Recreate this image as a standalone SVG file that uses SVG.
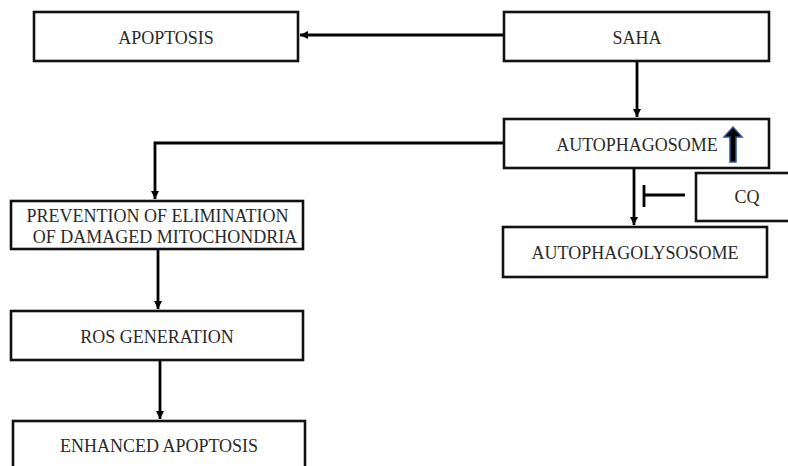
<svg xmlns="http://www.w3.org/2000/svg" width="788" height="466" viewBox="0 0 788 466">
<defs>
<marker id="ah" markerWidth="10" markerHeight="10" refX="8" refY="5" orient="auto" markerUnits="userSpaceOnUse">
<path d="M0,1 L8,5 L0,9 Z" fill="#000"/>
</marker>
<style>
.box{fill:#fff;stroke:#111;stroke-width:2.6}
.t{font-family:"Liberation Serif","Times New Roman",serif;font-size:18px;fill:#2a2a2a;text-anchor:middle}
.c{fill:none;stroke:#000;stroke-width:2.8}
</style>
</defs>
<rect width="788" height="466" fill="#fff"/>
<g id="connectors">
<path class="c" d="M504,35 H300" marker-end="url(#ah)"/>
<path class="c" d="M637,61 V117" marker-end="url(#ah)"/>
<path class="c" d="M504,143 H155 V199" marker-end="url(#ah)"/>
<path class="c" d="M634,168 V225" marker-end="url(#ah)"/>
<path class="c" d="M685,195 H644 M644,185 V207"/>
<path class="c" d="M158,249 V309" marker-end="url(#ah)"/>
<path class="c" d="M160,360 V419" marker-end="url(#ah)"/>
</g>
<g id="apoptosis">
<rect class="box" x="34" y="12" width="264" height="49"/>
<text class="t" x="166" y="44">APOPTOSIS</text>
</g>
<g id="saha">
<rect class="box" x="504" y="12" width="265" height="49"/>
<text class="t" x="637" y="44">SAHA</text>
</g>
<g id="autophagosome">
<rect class="box" x="504" y="119" width="265" height="49"/>
<text class="t" x="637" y="151">AUTOPHAGOSOME</text>
<path d="M733,127 L742,137 L736,137 L736,162 L730,162 L730,137 L724,137 Z" fill="#000" stroke="#2f5597" stroke-width="1.5"/>
</g>
<g id="cq">
<rect class="box" x="696" y="173" width="100" height="48"/>
<text class="t" x="747" y="203">CQ</text>
</g>
<g id="autophagolysosome">
<rect class="box" x="503" y="227" width="264" height="50"/>
<text class="t" x="635" y="259">AUTOPHAGOLYSOSOME</text>
</g>
<g id="prevention">
<rect class="box" x="11" y="201" width="292" height="48"/>
<text class="t" x="157.5" y="222">PREVENTION OF ELIMINATION</text>
<text class="t" x="165" y="243">OF DAMAGED MITOCHONDRIA</text>
</g>
<g id="ros">
<rect class="box" x="11" y="311" width="292" height="49"/>
<text class="t" x="157" y="343">ROS GENERATION</text>
</g>
<g id="enhanced">
<rect class="box" x="13" y="421" width="292" height="60"/>
<text class="t" x="159" y="452">ENHANCED APOPTOSIS</text>
</g>
</svg>
